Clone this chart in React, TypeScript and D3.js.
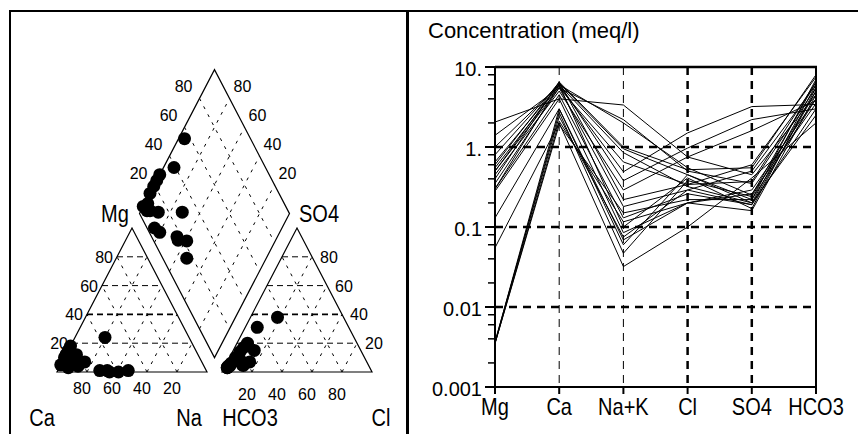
import React from 'react';
import * as d3 from 'd3';

// ---- Schoeller data (meq/l), one entry per sample ----
const ions = ['Mg', 'Ca', 'Na+K', 'Cl', 'SO4', 'HCO3'];
const mg = [2.05, 1.4, 1.0, 0.8, 0.65, 0.55, 0.5, 0.45, 0.4, 0.35, 0.3, 0.3, 0.28, 0.13, 0.055, 0.0035, 0.0035, 0.0037, 0.0035, 0.0036, 0.6, 0.5];
const ca = [4.0, 5.5, 6.0, 6.3, 6.0, 5.8, 6.2, 5.0, 6.5, 5.5, 4.5, 6.0, 4.0, 3.0, 2.0, 1.9, 2.1, 2.4, 2.7, 3.0, 6.5, 5.5];
const naK = [3.35, 2.2, 2.0, 0.95, 0.85, 0.49, 0.38, 0.29, 0.22, 0.18, 0.13, 0.1, 0.085, 0.069, 0.032, 0.15, 0.116, 0.075, 0.047, 0.06, 1.0, 0.65];
const cl = [0.75, 0.5, 0.55, 0.45, 0.32, 1.5, 0.97, 0.75, 0.34, 0.29, 0.26, 0.41, 0.2, 0.2, 0.1, 0.22, 0.2, 0.29, 0.38, 0.45, 0.52, 0.34];
const so4 = [0.45, 0.35, 0.25, 0.22, 0.2, 3.2, 2.2, 1.6, 0.6, 0.5, 0.19, 0.17, 0.16, 0.29, 0.41, 0.22, 0.26, 0.19, 0.24, 0.2, 0.55, 0.37];
const hco3 = [4.5, 5.5, 6.5, 7.0, 6.0, 3.4, 3.0, 3.8, 7.5, 6.0, 5.0, 5.5, 4.5, 4.0, 2.0, 4.0, 3.5, 3.0, 5.0, 2.5, 8.0, 6.5];
const yTicks = [10, 1, 0.1, 0.01, 0.001];
const yTickLabels = ['10.', '1.', '0.1', '0.01', '0.001'];

// ---- Piper data (% of meq) ----
const catNa = [4, 7, 0, 0, 0, 2, 0, 6, 12, 28, 15, 20, 35, 41, 47, 33, 0, 4];
const catMg = [10, 12, 15, 5, 10, 8, 12, 3, 4, 1, 7, 24, 0, 0, 1, 1, 18, 6];
const anCl = [18, 8, 7, 6, 4, 3, 2, 3, 5, 14, 2, 3, 12, 15, 11, 10, 5, 2];
const anSO4 = [38, 31, 20, 17, 10, 6, 3, 5, 8, 15, 3, 4, 4.5, 7, 5, 7, 14, 4];
const gridPct = [20, 40, 60, 80];

const FONT = '"Liberation Sans", Arial, sans-serif';

const Txt = ({ x, cy, size, anchor = 'middle', sy = 1.2, children }: any) => {
  const base = cy + (0.716 * size * sy) / 2;
  return (
    <text transform={`translate(${x},${base}) scale(1,${sy})`} fontSize={size} textAnchor={anchor} fontFamily={FONT} fill="#000">
      {children}
    </text>
  );
};

export default function App() {
  // piper geometry
  const side = 150, triH = 144, gap = 15, baseY = 372, leftX = 57;
  const tx = d3.scaleLinear().domain([0, 100]).range([0, side]);
  const ty = d3.scaleLinear().domain([0, 100]).range([0, triH]);
  const cat = (na: number, m: number): [number, number] => [leftX + tx(na + m / 2), baseY - ty(m)];
  const an = (c: number, s: number): [number, number] => [leftX + side + gap + tx(c + s / 2), baseY - ty(s)];
  const tOff = ((side + gap) / side) * 100;
  const dia = (na: number, q: number): [number, number] => {
    const t = tOff + q - na;
    return [leftX + tx(na) + tx(t / 2), baseY - ty(t)];
  };
  const line = d3.line();

  const triGrid = (f: (a: number, b: number) => [number, number]) =>
    gridPct.flatMap(v => [
      { d: line([f(0, v), f(100 - v, v)]), h: true, v },
      { d: line([f(v, 0), f(v, 100 - v)]), h: false, v },
      { d: line([f(100 - v, 0), f(0, 100 - v)]), h: false, v },
    ]);
  const leftGrid = triGrid(cat);
  const rightGrid = triGrid(an);
  const diaGrid = gridPct.flatMap(v => [line([dia(v, 0), dia(v, 100)]), line([dia(0, v), dia(100, v)])]);

  // schoeller scales
  const x = d3.scalePoint<string>().domain(ions).range([495, 816]);
  const y = d3.scaleLog().domain([0.001, 10]).range([387, 67]);
  const samples = mg.map((_, i) => [mg[i], ca[i], naK[i], cl[i], so4[i], hco3[i]]);
  const sLine = d3.line<number>().x((_, j) => x(ions[j]) as number).y(v => y(v));
  const minor: number[] = [];
  [0.001, 0.01, 0.1, 1].forEach(d => [2, 4, 6, 8].forEach(k => minor.push(d * k)));

  return (
    <svg width={858} height={434} style={{ position: 'absolute', left: 0, top: 0, background: '#fff' }}>
      {/* frame */}
      <line x1={10} y1={11} x2={10} y2={434} stroke="#000" strokeWidth={2} />
      <line x1={9} y1={11} x2={858} y2={11} stroke="#000" strokeWidth={2} />
      <line x1={407.5} y1={11} x2={407.5} y2={434} stroke="#000" strokeWidth={3} />

      {/* ---- Piper ---- */}
      <g fill="none" stroke="#000">
        {leftGrid.concat(rightGrid).map((g, i) => (
          <path key={'tg' + i} d={g.d as string} strokeWidth={g.h && g.v === 40 ? 1.6 : 1}
            strokeDasharray={g.h ? '6,4' : '3,6'} />
        ))}
        {diaGrid.map((d, i) => <path key={'dg' + i} d={d as string} strokeWidth={1} strokeDasharray="3,6" />)}
        <path d={line([cat(0, 0), cat(100, 0), cat(0, 100)]) + 'Z'} strokeWidth={1.2} />
        <path d={line([an(0, 0), an(100, 0), an(0, 100)]) + 'Z'} strokeWidth={1.2} />
        <path d={line([dia(100, 0), dia(0, 0), dia(0, 100), dia(100, 100)]) + 'Z'} strokeWidth={1.2} />
      </g>
      <g fill="#000">
        {catNa.map((n, i) => {
          const [px, py] = cat(n, catMg[i]);
          return <circle key={'c' + i} cx={px} cy={py} r={6.5} />;
        })}
        {anCl.map((c, i) => {
          const [px, py] = an(c, anSO4[i]);
          return <circle key={'a' + i} cx={px} cy={py} r={6.5} />;
        })}
        {catNa.map((n, i) => {
          const [px, py] = dia(n, anCl[i] + anSO4[i]);
          return <circle key={'d' + i} cx={px} cy={py} r={6.5} />;
        })}
      </g>
      {gridPct.map(v => {
        const [lx, ly] = cat(0, v);
        const [bx] = cat(100 - v, 0);
        const [rx, ry] = an(100 - v, v);
        const [cx2] = an(v, 0);
        const [ulx, uly] = dia(0, v);
        const [urx, ury] = dia(100 - v, 100);
        return (
          <g key={'lab' + v}>
            <Txt x={lx - 4} cy={ly} size={16} sy={1.05} anchor="end">{v}</Txt>
            <Txt x={bx - 5} cy={388} size={16} sy={1.05}>{v}</Txt>
            <Txt x={rx + 8} cy={ry} size={16} sy={1.05} anchor="start">{v}</Txt>
            <Txt x={cx2 - 5} cy={394} size={16} sy={1.05}>{v}</Txt>
            <Txt x={ulx - 7} cy={uly - 12} size={16} sy={1.05} anchor="end">{v}</Txt>
            <Txt x={urx + 4} cy={ury - 12} size={16} sy={1.05} anchor="start">{v}</Txt>
          </g>
        );
      })}
      <Txt x={42} cy={418} size={20} sy={1.15}>Ca</Txt>
      <Txt x={189} cy={418} size={20} sy={1.15}>Na</Txt>
      <Txt x={250} cy={418} size={20} sy={1.15}>HCO3</Txt>
      <Txt x={381} cy={418} size={20} sy={1.15}>Cl</Txt>
      <Txt x={115} cy={213} size={20}>Mg</Txt>
      <Txt x={319} cy={213} size={20}>SO4</Txt>

      {/* ---- Schoeller ---- */}
      <text x={428} y={38} fontSize={22} fontFamily={FONT}>Concentration (meq/l)</text>
      <g stroke="#000" fill="none">
        {[1, 0.1, 0.01].map(v => (
          <line key={'hg' + v} x1={495} x2={816} y1={y(v)} y2={y(v)} strokeWidth={2.5} strokeDasharray="8,6" />
        ))}
        {ions.slice(1, 5).map((ion, i) => (
          <line key={'vg' + ion} x1={x(ion)} x2={x(ion)} y1={67} y2={387}
            strokeWidth={i < 2 ? 1 : 2.5} strokeDasharray="8,6" />
        ))}
        {samples.map((s, i) => <path key={'s' + i} d={sLine(s) as string} strokeWidth={1} />)}
        <line x1={495} x2={817} y1={67} y2={67} strokeWidth={2.5} />
        <line x1={816} x2={816} y1={67} y2={387} strokeWidth={2} />
        <line x1={495} x2={495} y1={66} y2={388} strokeWidth={2} />
        <line x1={495} x2={817} y1={387} y2={387} strokeWidth={2} />
        {yTicks.map(v => <line key={'mt' + v} x1={485} x2={495} y1={y(v)} y2={y(v)} strokeWidth={2} />)}
        {minor.map(v => <line key={'nt' + v} x1={488} x2={495} y1={y(v)} y2={y(v)} strokeWidth={1.5} />)}
        {ions.map(ion => <line key={'bt' + ion} x1={x(ion)} x2={x(ion)} y1={387} y2={394} strokeWidth={2} />)}
      </g>
      {yTicks.map((v, i) => (
        <Txt key={'yl' + v} x={482} cy={y(v) + 1} size={20} sy={1.05} anchor="end">{yTickLabels[i]}</Txt>
      ))}
      {ions.map(ion => (
        <Txt key={'xl' + ion} x={x(ion)} cy={406} size={20} sy={1.2}>{ion}</Txt>
      ))}
    </svg>
  );
}
